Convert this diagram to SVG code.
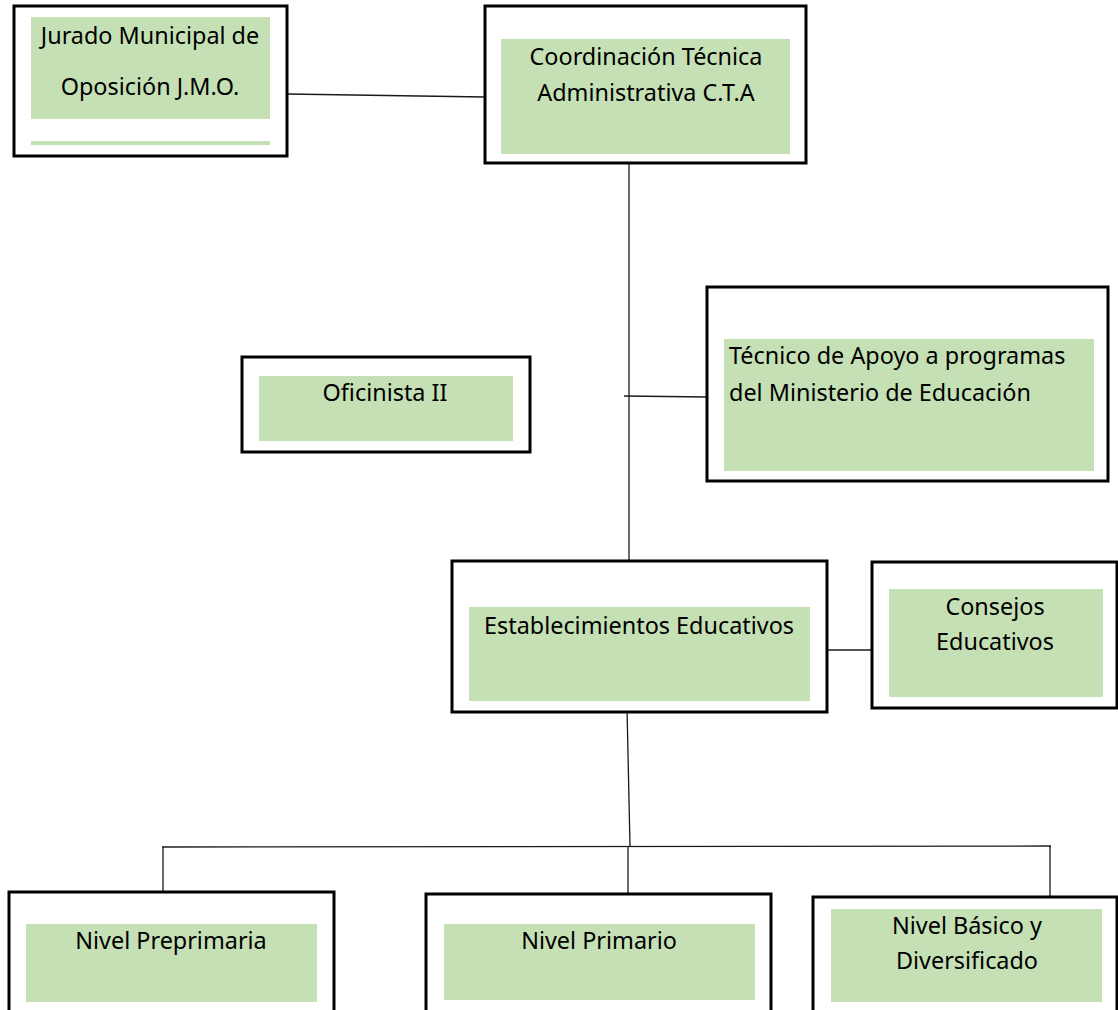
<svg xmlns="http://www.w3.org/2000/svg" width="1118" height="1010" viewBox="0 0 1118 1010">
<style>
.box{fill:#ffffff;stroke:#000000;stroke-width:3}
.fill{fill:#c5e0b4;stroke:none}
.t{font-family:"Noto Sans","Open Sans",sans-serif;font-size:23.4px;fill:#000000}
.c{text-anchor:middle}
.ln{stroke:#1a1a1a;stroke-width:1.3;fill:none}
</style>
<rect width="1118" height="1010" fill="#ffffff"/>
<g id="connectors">
<line class="ln" x1="287" y1="94" x2="485" y2="97"/>
<line class="ln" x1="629" y1="163" x2="629" y2="561"/>
<line class="ln" x1="624" y1="396" x2="707" y2="397"/>
<line class="ln" x1="827" y1="650" x2="872" y2="650"/>
<line class="ln" x1="627" y1="708" x2="630" y2="846"/>
<line class="ln" x1="162" y1="847" x2="1051" y2="846"/>
<line class="ln" x1="163" y1="847" x2="163" y2="892"/>
<line class="ln" x1="628" y1="846" x2="628" y2="894"/>
<line class="ln" x1="1050" y1="846" x2="1050" y2="897"/>
</g>
<g id="jmo">
<rect class="box" x="14" y="6" width="273" height="150"/>
<rect class="fill" x="31" y="17" width="239" height="102"/>
<rect class="fill" x="31" y="141" width="239" height="4"/>
<text class="t c" x="150" y="44">Jurado Municipal de</text>
<text class="t c" x="150" y="95">Oposición J.M.O.</text>
</g>
<g id="cta">
<rect class="box" x="485" y="6" width="321" height="157"/>
<rect class="fill" x="501" y="39" width="289" height="115"/>
<text class="t c" x="646" y="65">Coordinación Técnica</text>
<text class="t c" x="646" y="101">Administrativa C.T.A</text>
</g>
<g id="oficinista">
<rect class="box" x="242" y="357" width="288" height="95"/>
<rect class="fill" x="259" y="376" width="254" height="65"/>
<text class="t c" x="385" y="401">Oficinista II</text>
</g>
<g id="tecnico">
<rect class="box" x="707" y="287" width="401" height="194"/>
<rect class="fill" x="724" y="339" width="370" height="132"/>
<text class="t" x="729" y="364">Técnico de Apoyo a programas</text>
<text class="t" x="729" y="401">del Ministerio de Educación</text>
</g>
<g id="establecimientos">
<rect class="box" x="452" y="561" width="375" height="151"/>
<rect class="fill" x="469" y="607" width="341" height="94"/>
<text class="t c" x="639" y="634">Establecimientos Educativos</text>
</g>
<g id="consejos">
<rect class="box" x="872" y="562" width="245" height="146"/>
<rect class="fill" x="889" y="589" width="214" height="108"/>
<text class="t c" x="995" y="615">Consejos</text>
<text class="t c" x="995" y="650">Educativos</text>
</g>
<g id="preprimaria">
<rect class="box" x="9" y="892" width="325" height="130"/>
<rect class="fill" x="26" y="924" width="291" height="78"/>
<text class="t c" x="171" y="949">Nivel Preprimaria</text>
</g>
<g id="primario">
<rect class="box" x="426" y="894" width="345" height="130"/>
<rect class="fill" x="444" y="924" width="311" height="76"/>
<text class="t c" x="599" y="949">Nivel Primario</text>
</g>
<g id="basico">
<rect class="box" x="813" y="897" width="304" height="130"/>
<rect class="fill" x="831" y="909" width="271" height="93"/>
<text class="t c" x="967" y="934">Nivel Básico y</text>
<text class="t c" x="967" y="969">Diversificado</text>
</g>
</svg>
